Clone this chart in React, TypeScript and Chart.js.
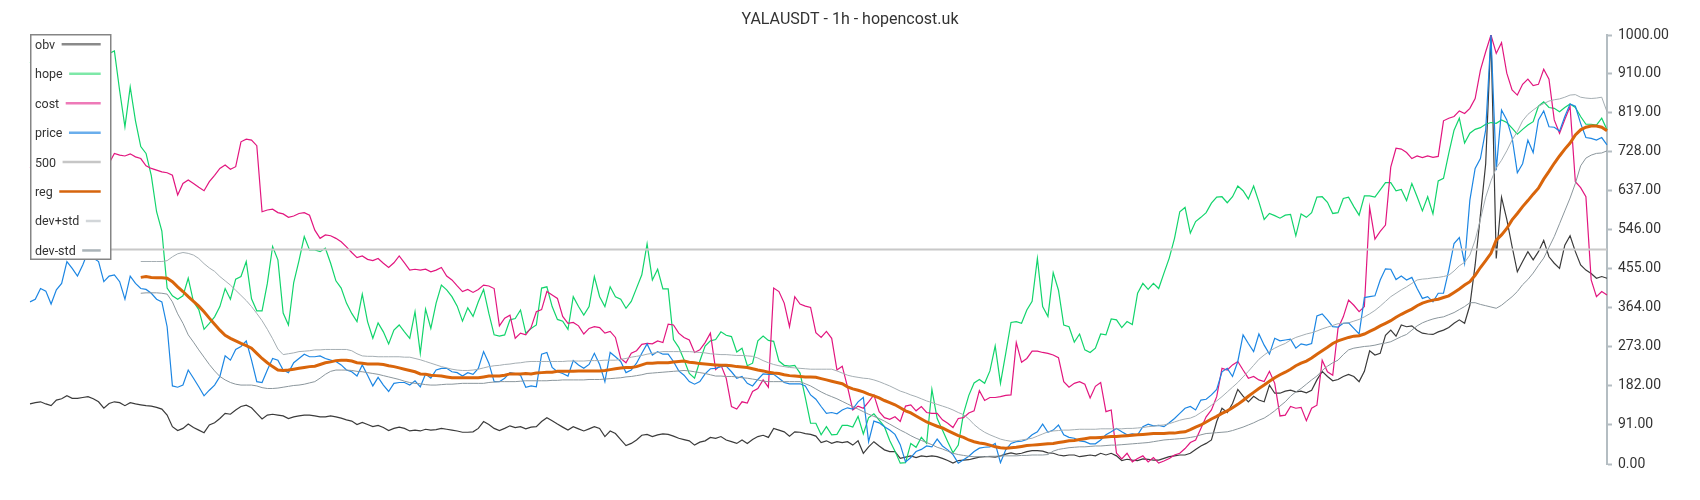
import React, { useEffect, useRef } from "react";
import { Chart, registerables } from "chart.js";

Chart.register(...registerables);

const TITLE = "YALAUSDT - 1h - hopencost.uk";
const N = 300;
const BAND_START = 21;
const LEVEL = 500;
const Y_TICKS = [0, 91, 182, 273, 364, 455, 546, 637, 728, 819, 910, 1000];

const OBV = [
  140,143,145,140,136,149,152,159,153,153,
  155,157,152,145,130,141,145,143,136,143,
  140,138,136,135,132,128,114,87,78,83,
  93,85,79,73,91,96,106,118,116,126,
  134,137,131,118,105,114,116,114,112,106,
  110,112,114,114,112,110,110,112,110,107,
  103,100,92,97,92,87,90,85,78,83,
  86,83,77,79,77,81,79,80,83,81,
  79,77,74,74,75,83,99,92,83,78,
  83,89,85,87,82,86,87,99,108,101,
  93,86,79,87,82,77,82,87,83,64,
  77,71,57,43,48,56,67,69,64,68,
  70,69,65,60,57,54,44,51,54,62,
  60,64,56,52,48,56,48,57,64,67,
  62,83,79,75,65,75,74,71,69,65,
  50,54,48,52,50,52,44,54,25,40,
  52,42,33,29,29,13,16,19,15,19,
  17,19,17,13,8,2,8,9,10,13,
  16,17,17,16,19,23,26,23,25,29,
  31,31,30,26,25,21,19,21,21,17,
  19,21,19,25,21,25,19,8,11,9,
  8,12,11,9,9,13,17,19,21,21,
  25,34,42,48,56,99,130,120,141,174,
  158,145,158,149,145,184,165,165,170,172,
  168,170,166,172,196,216,204,194,197,204,
  209,204,192,216,264,254,258,300,312,298,
  324,320,322,312,305,303,302,308,312,318,
  328,336,328,370,464,580,700,1000,479,622,
  570,507,448,472,495,476,495,521,483,468,
  456,510,532,495,464,452,444,433,437,433,
];

const HOPE = [
  935,950,962,955,972,985,978,990,982,995,
  990,998,985,975,968,957,963,870,786,879,
  800,740,724,672,588,543,410,392,384,392,
  433,378,360,314,328,343,367,409,384,431,
  437,472,385,357,357,421,507,476,352,324,
  423,474,530,499,499,495,503,468,427,410,
  375,351,332,396,332,293,329,308,280,312,
  324,308,293,355,258,361,316,375,417,406,
  390,368,333,364,344,378,407,351,301,298,
  301,336,339,359,305,316,324,410,413,367,
  337,333,314,390,367,347,367,437,390,367,
  413,390,384,363,379,410,441,513,429,454,
  408,408,290,272,243,211,200,240,275,287,
  290,308,300,297,261,270,229,235,287,298,
  288,286,240,230,228,230,212,155,95,95,
  68,87,68,69,90,90,86,111,70,108,
  117,102,87,55,30,2,3,48,39,62,
  48,174,106,79,52,26,44,118,160,189,
  197,188,217,275,188,258,330,332,328,359,
  379,479,367,344,446,405,324,320,284,303,
  266,260,270,303,301,338,336,318,332,325,
  398,421,407,421,409,445,480,526,588,598,
  538,565,575,586,608,622,623,609,623,648,
  637,618,648,611,570,584,579,573,580,582,
  532,583,575,586,622,623,610,584,586,619,
  622,600,580,625,625,622,639,656,656,637,
  640,614,654,623,590,623,583,660,666,724,
  778,806,748,771,780,784,792,796,794,802,
  796,783,769,780,790,798,834,844,831,829,
  821,831,839,831,810,792,792,790,806,779,
];

const COST = [
  690,700,705,698,710,715,705,712,720,708,
  715,722,712,705,700,701,724,720,718,723,
  716,712,695,689,685,681,679,673,627,654,
  662,654,645,637,658,673,689,697,687,693,
  751,757,755,742,588,592,594,586,583,575,
  578,584,586,580,545,526,534,532,526,518,
  506,493,481,485,477,474,479,468,458,469,
  485,469,452,454,452,454,448,452,458,438,
  429,415,402,407,400,407,417,415,409,322,
  340,347,293,305,301,318,355,360,402,394,
  386,344,328,330,322,303,316,320,318,305,
  309,295,246,236,258,264,279,281,280,287,
  283,326,324,305,295,289,260,266,283,305,
  220,231,200,134,128,145,142,169,176,196,
  179,410,402,375,320,390,373,368,365,306,
  295,309,293,219,228,180,126,135,130,145,
  161,122,108,104,110,99,135,138,124,134,
  120,118,118,103,95,85,106,108,119,124,
  171,148,155,155,157,160,161,283,237,246,
  263,263,260,258,254,248,192,179,188,192,
  186,154,181,190,122,126,25,12,25,5,
  13,19,5,15,2,7,13,21,25,36,
  50,56,83,110,126,157,223,219,231,239,
  219,200,204,196,192,216,188,112,114,134,
  130,132,101,130,137,242,215,207,316,343,
  382,370,355,367,598,524,542,557,692,736,
  734,726,712,718,714,718,715,717,800,806,
  810,823,817,829,852,918,961,1000,957,982,
  911,872,860,885,897,882,885,920,897,802,
  771,803,833,658,644,623,429,390,402,394,
];

const PRICE = [
  378,384,409,403,373,406,421,472,456,438,
  464,495,480,472,425,438,441,425,384,438,
  421,409,407,398,384,378,320,182,179,184,
  219,200,180,159,172,184,204,252,242,267,
  274,287,242,192,190,219,246,242,219,213,
  236,246,256,250,250,252,246,242,239,231,
  219,215,205,231,207,182,202,184,169,188,
  190,190,184,194,180,210,200,219,223,223,
  215,213,205,213,209,223,262,235,192,192,
  200,213,211,207,179,182,180,256,260,225,
  215,211,205,241,231,223,232,258,232,192,
  260,250,239,213,219,235,258,280,254,262,
  256,256,239,217,207,192,186,192,210,222,
  223,227,228,215,200,204,188,182,197,210,
  209,209,200,190,187,187,187,182,161,151,
  134,118,120,117,126,131,128,145,155,52,
  100,96,87,79,69,45,5,15,29,34,
  42,40,58,42,33,22,2,10,18,29,
  37,39,40,48,3,33,48,52,53,57,
  68,75,93,74,79,91,68,62,60,54,
  52,47,47,56,68,75,83,75,68,70,
  68,87,93,89,90,87,96,106,118,130,
  134,126,149,151,161,174,215,223,204,239,
  301,281,262,303,277,256,293,287,289,291,
  270,280,277,281,345,350,336,320,319,328,
  329,316,303,388,390,392,429,455,454,430,
  438,429,435,409,386,390,378,398,398,452,
  514,528,468,615,689,712,779,1000,685,825,
  802,761,679,700,755,726,802,823,786,785,
  776,810,839,834,794,761,759,755,761,744,
];

// reg / bands begin at index BAND_START (21)
const REG = [
  435,437,435,434,434,433,425,413,402,
  390,379,368,355,340,326,312,300,293,287,
  281,276,270,258,246,236,227,219,218,219,
  221,223,225,227,228,232,236,238,241,242,
  242,240,236,235,233,233,233,232,229,227,
  224,221,218,215,210,209,207,206,205,203,
  201,201,201,201,201,201,203,205,205,205,
  207,210,210,210,211,210,212,213,214,214,
  216,216,216,216,217,217,217,217,217,218,
  220,222,224,225,225,227,231,235,235,236,
  236,236,238,239,240,237,236,234,233,232,
  231,230,230,229,227,226,225,222,219,217,
  214,212,211,208,206,205,204,203,203,202,
  199,196,193,190,187,180,175,172,168,163,
  159,154,148,143,138,131,124,119,112,105,
  98,93,88,84,78,72,66,62,56,52,
  49,47,44,40,38,37,38,39,41,43,
  44,45,46,47,48,50,52,54,55,57,
  59,61,61,62,63,64,64,65,66,67,
  68,69,70,71,71,71,72,72,74,75,
  80,86,91,98,105,111,118,124,131,139,
  148,158,167,176,184,193,201,208,214,221,
  229,235,240,247,256,264,272,281,287,291,
  295,298,299,303,309,315,322,328,334,342,
  349,355,361,369,375,379,382,384,388,392,
  400,408,417,425,440,458,474,491,522,534,
  549,569,584,600,614,629,643,664,682,701,
  718,734,748,767,779,785,788,788,785,777,
];

const DEV_PLUS = [
  472,472,472,472,472,474,483,490,493,
  491,487,479,467,457,449,437,427,417,405,
  393,381,367,351,334,314,292,268,255,257,
  259,262,263,264,266,266,267,267,267,267,
  267,264,257,252,251,251,250,250,250,250,
  250,249,249,246,243,239,235,231,227,224,
  221,219,218,218,219,221,224,227,229,230,
  232,233,235,236,238,239,239,239,239,239,
  239,239,240,240,240,240,241,241,241,242,
  242,242,244,246,249,251,253,256,258,260,
  262,262,262,262,262,262,261,260,259,257,
  256,255,255,254,253,253,252,251,247,241,
  236,232,229,227,225,224,223,222,221,221,
  221,221,221,217,212,207,204,202,200,199,
  196,192,187,182,176,170,166,161,157,152,
  147,143,139,135,131,126,120,115,105,92,
  82,74,68,63,58,55,53,54,56,58,
  60,65,70,75,77,78,79,79,80,81,
  81,81,81,82,82,82,82,82,83,83,
  84,85,87,88,90,91,94,98,102,105,
  107,112,120,128,137,147,157,168,179,190,
  203,216,230,244,254,263,270,276,281,289,
  295,299,303,306,310,315,319,323,327,328,
  329,333,337,343,350,358,368,379,390,398,
  406,413,421,429,431,432,434,435,437,440,
  450,462,470,487,522,570,622,660,690,708,
  730,755,775,800,815,825,834,840,846,849,
  851,855,860,861,855,853,852,853,855,821,
];

const DEV_MINUS = [
  398,399,399,399,398,396,378,350,328,
  301,284,266,249,232,217,204,196,190,186,
  184,184,184,182,178,176,176,177,179,181,
  183,184,186,189,192,200,209,216,219,219,
  219,218,216,215,213,211,209,206,203,200,
  197,193,190,188,187,185,184,184,185,186,
  186,187,188,188,188,188,188,190,191,192,
  192,192,192,193,194,194,194,194,194,195,
  195,196,196,196,196,196,197,197,197,198,
  199,200,201,203,204,206,208,211,212,213,
  214,215,216,217,218,217,215,213,211,208,
  205,205,204,204,203,201,200,198,196,193,
  192,192,192,192,192,192,192,187,182,175,
  168,162,157,152,146,140,134,128,122,116,
  111,106,100,93,86,79,73,66,60,55,
  50,45,39,35,30,25,22,20,18,17,
  17,17,18,18,19,19,19,19,20,20,
  21,21,21,22,30,34,36,38,39,40,
  40,41,42,42,43,44,44,45,46,47,
  48,49,50,52,54,56,57,58,59,60,
  62,64,68,71,72,73,74,75,78,82,
  86,91,96,102,107,115,124,135,145,158,
  168,176,186,196,205,218,228,236,242,255,
  266,270,272,274,275,277,280,282,285,291,
  297,302,312,322,329,334,338,341,343,348,
  353,360,367,376,376,372,369,366,363,370,
  380,390,402,418,430,445,463,480,505,530,
  560,590,620,654,695,713,720,724,725,730,
];

const LEGEND = [
  { name: "obv", color: "#8a8a8a" },
  { name: "hope", color: "#7ee8a8" },
  { name: "cost", color: "#ee7ab8" },
  { name: "price", color: "#6aaeec" },
  { name: "500", color: "#c6c6c6" },
  { name: "reg", color: "#d6650d" },
  { name: "dev+std", color: "#d2d6d9" },
  { name: "dev-std", color: "#aab3b8" },
];

const LABELS = Array.from({ length: N }, (_, i) => String(i));
const withLead = (arr: number[]) => [...Array(BAND_START).fill(null), ...arr];

const overlayPlugin = {
  id: "overlay",
  afterDraw(chart: any) {
    const ctx = chart.ctx as CanvasRenderingContext2D;
    ctx.save();
    // title
    ctx.font = "16px Roboto";
    ctx.fillStyle = "#333333";
    ctx.textAlign = "center";
    ctx.textBaseline = "middle";
    ctx.fillText(TITLE, 850, 20);

    // legend box
    ctx.fillStyle = "#ffffff";
    ctx.fillRect(30, 34, 81, 226);
    ctx.strokeStyle = "#858585";
    ctx.lineWidth = 1.5;
    ctx.strokeRect(30.75, 34.75, 80, 224.5);

    ctx.font = "12.5px Roboto";
    ctx.textAlign = "left";
    ctx.textBaseline = "alphabetic";
    LEGEND.forEach((item, i) => {
      const base = 49 + 29.4 * i;
      ctx.fillStyle = "#333333";
      ctx.fillText(item.name, 35, base);
      const w = ctx.measureText(item.name).width;
      const ly = 44.3 + 29.45 * i;
      ctx.strokeStyle = item.color;
      ctx.lineWidth = 2.5;
      ctx.beginPath();
      ctx.moveTo(35 + w + 6.5, ly);
      ctx.lineTo(100.7, ly);
      ctx.stroke();
    });
    ctx.restore();
  },
};

export default function App() {
  const ref = useRef<HTMLCanvasElement | null>(null);

  useEffect(() => {
    if (!ref.current) return;
    Chart.defaults.font.family = "Roboto";
    const line = (label: string, data: any[], color: string, width: number, order: number) => ({
      label,
      data,
      borderColor: color,
      backgroundColor: color,
      borderWidth: width,
      pointRadius: 0,
      pointHoverRadius: 0,
      tension: 0,
      fill: false,
      order,
    });
    const chart = new Chart(ref.current, {
      type: "line",
      data: {
        labels: LABELS,
        datasets: [
          line("obv", OBV, "#3b3b3b", 1.2, 8),
          line("hope", HOPE, "#12d46c", 1.2, 7),
          line("cost", COST, "#e2167f", 1.2, 6),
          line("price", PRICE, "#1c86e3", 1.2, 5),
          line("500", LABELS.map(() => LEVEL), "#c8c8c8", 2, 4),
          line("reg", withLead(REG), "#d9650b", 3, 3),
          line("dev+std", withLead(DEV_PLUS), "#a5aeb3", 1, 2),
          line("dev-std", withLead(DEV_MINUS), "#8b969c", 1, 1),
        ],
      },
      options: {
        responsive: false,
        devicePixelRatio: 1,
        animation: false,
        events: [],
        layout: { padding: { left: 30, top: 35, right: 0, bottom: 36 } },
        plugins: {
          legend: { display: false },
          title: { display: false },
          tooltip: { enabled: false },
        },
        scales: {
          x: { type: "category", display: false },
          y: {
            position: "right",
            min: 0,
            max: 1000,
            afterBuildTicks: (scale: any) => {
              scale.ticks = Y_TICKS.map((v) => ({ value: v }));
            },
            afterFit: (scale: any) => {
              scale.width = 93;
            },
            border: { display: true, color: "#b4bdc2", width: 2 },
            grid: {
              display: true,
              drawOnChartArea: false,
              drawTicks: true,
              tickLength: 5,
              tickColor: "#b4bdc2",
              tickWidth: 2,
            },
            ticks: {
              autoSkip: false,
              color: "#333333",
              padding: 6,
              font: { size: 14, family: "Roboto" },
              callback: (v: any) => Number(v).toFixed(2),
            },
          },
        },
      },
      plugins: [overlayPlugin],
    });
    return () => chart.destroy();
  }, []);

  return (
    <div style={{ position: "fixed", left: 0, top: 0, width: 1700, height: 500, background: "#ffffff" }}>
      <canvas ref={ref} width={1700} height={500} style={{ display: "block" }} />
    </div>
  );
}
